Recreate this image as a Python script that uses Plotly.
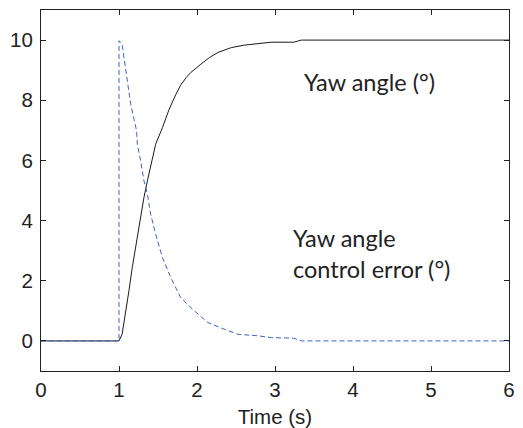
import plotly.graph_objects as go

# Yaw angle (black, solid)
yaw_t = [0, 1.0, 1.04, 1.084, 1.127, 1.17, 1.213, 1.235, 1.277, 1.32, 1.364, 1.428,
         1.47, 1.557, 1.643, 1.73, 1.79, 1.86, 1.92, 2.05, 2.16, 2.27, 2.44, 2.6, 2.83,
         2.95, 3.24, 3.34, 6.0]
yaw_v = [0, 0, 0.22, 0.89, 1.66, 2.44, 3.1, 3.55, 4.21, 4.77, 5.32, 6.1,
         6.54, 7.09, 7.7, 8.2, 8.5, 8.75, 8.92, 9.2, 9.42, 9.59, 9.75, 9.83, 9.88,
         9.93, 9.93, 10, 10]

# Yaw angle control error (blue, dashed)
err_t = [0, 1.0, 1.0, 1.04, 1.07, 1.15, 1.226, 1.235, 1.277, 1.32, 1.364, 1.406,
         1.47, 1.557, 1.665, 1.79, 1.965, 2.14, 2.35, 2.525, 2.78, 2.955, 3.24,
         3.34, 6.0]
err_v = [0, 0, 9.98, 9.87, 9.31, 7.87, 6.98, 6.54, 5.99, 5.32, 4.88, 4.21,
         3.55, 2.77, 2.1, 1.44, 1.0, 0.61, 0.39, 0.22, 0.17, 0.11, 0.09,
         0, 0]

x_ticks = [0, 1, 2, 3, 4, 5, 6]
y_ticks = [0, 2, 4, 6, 8, 10]

fig = go.Figure()
fig.add_trace(go.Scatter(x=yaw_t, y=yaw_v, mode="lines",
                         line=dict(color="#1a1a1a", width=1), showlegend=False))
fig.add_trace(go.Scatter(x=err_t, y=err_v, mode="lines",
                         line=dict(color="#3d62c4", width=1, dash="5px,3px"),
                         showlegend=False))

ann_font = dict(family="Lato, Carlito, sans-serif", size=23.5, color="#222222")
fig.add_annotation(x=3.34, y=8.62, text="Yaw angle (°)", showarrow=False,
                   xanchor="left", yanchor="middle", font=ann_font)
fig.add_annotation(x=3.2, y=3.42, text="Yaw angle", showarrow=False,
                   xanchor="left", yanchor="middle", font=ann_font)
fig.add_annotation(x=3.2, y=2.4, text="control error (°)", showarrow=False,
                   xanchor="left", yanchor="middle", font=ann_font)

tick_font = dict(family="Liberation Sans, Arial, sans-serif", size=20.5, color="#222222")
axis_common = dict(showline=True, linecolor="#222222", linewidth=1, mirror="ticks",
                   ticks="inside", ticklen=5, tickcolor="#222222", tickwidth=1,
                   showgrid=False, zeroline=False, tickfont=tick_font, automargin=False)

fig.update_xaxes(range=[0, 6], tickvals=x_ticks, ticktext=[str(v) for v in x_ticks],
                 title=dict(text="Time (s)", font=tick_font, standoff=13), **axis_common)
fig.update_yaxes(range=[-1, 11], tickvals=y_ticks, ticktext=[str(v) for v in y_ticks],
                 ticklabelstandoff=3, **axis_common)

fig.update_layout(width=523, height=428, margin=dict(l=41, r=14, t=10, b=57),
                  paper_bgcolor="white", plot_bgcolor="white")

fig.write_html("out.html")
